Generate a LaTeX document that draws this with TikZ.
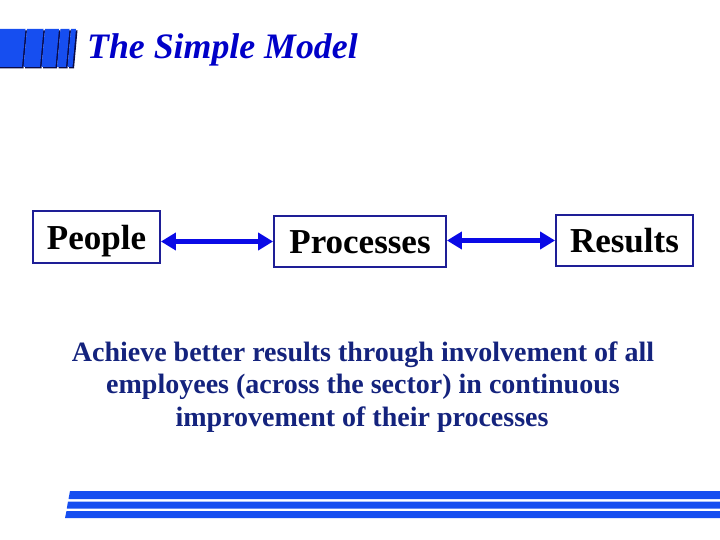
\documentclass[tikz,border=0pt]{standalone}
\usepackage{fontspec}
\setmainfont{Liberation Serif}
\usetikzlibrary{arrows.meta}
\definecolor{logoblue}{RGB}{22,78,240}
\definecolor{logoshadow}{RGB}{10,10,70}
\definecolor{titleblue}{RGB}{0,0,200}
\definecolor{boxblue}{RGB}{30,30,150}
\definecolor{arrowblue}{RGB}{10,10,230}
\definecolor{navytext}{RGB}{20,35,125}
\tikzset{
  stagebox/.style={draw=boxblue, line width=1.8pt, fill=white, inner sep=0pt,
    text height=24pt, text depth=0pt, font=\fontsize{35}{40}\selectfont\bfseries},
  linkarrow/.style={arrowblue, line width=5pt,
    {Triangle[length=15pt,width=17pt]}-{Triangle[length=15pt,width=17pt]}},
  bodytext/.style={navytext, anchor=base, inner sep=0pt,
    font=\fontsize{28}{33}\selectfont\bfseries},
  logobar/.style={fill=logoblue},
  logoshade/.style={fill=logoshadow},
  stripe/.style={fill=logoblue}
}
\begin{document}
\begin{tikzpicture}[x=1pt,y=-1pt]
\useasboundingbox (0,0) rectangle (720,540);
% logo
\foreach \tl/\tr/\bl/\br in {0/25.5/-3/22, 27/43.5/23.5/40, 45/59/41.5/55.5, 60.5/69.5/57/66, 71/76/67.5/72.5}{
  \fill[logoshade] (\tl+1.5,30.5) -- (\tr+1.5,30.5) -- (\br+1.5,68.5) -- (\bl+1.5,68.5) -- cycle;
  \fill[logobar] (\tl,29) -- (\tr,29) -- (\br,67) -- (\bl,67) -- cycle;
}
% title
\node[titleblue, anchor=base west, inner sep=0pt, font=\fontsize{35.8}{40}\selectfont\bfseries\itshape] (title) at (87,59) {The Simple Model};
% boxes
\node[stagebox, minimum width=127pt, minimum height=52pt] (people) at (96.5,237) {People};
\node[stagebox, minimum width=172pt, minimum height=51pt] (processes) at (360,241.5) {Processes};
\node[stagebox, minimum width=137pt, minimum height=51pt] (results) at (624.5,240.5) {Results};
% arrows
\draw[linkarrow] (people.east |- processes.west) -- (processes.west);
\draw[linkarrow] (processes.east |- results.west) -- (results.west);
% body text
\node[bodytext] (l1) at (363,361.5) {Achieve better results through involvement of all};
\node[bodytext] (l2) at (363,393.5) {employees (across the sector) in continuous};
\node[bodytext] (l3) at (362,426.5) {improvement of their processes};
% bottom stripes
\fill[stripe] (70,491) -- (720,491) -- (720,499) -- (68.5,499) -- cycle;
\fill[stripe] (68,501.5) -- (720,501.5) -- (720,508.5) -- (66.8,508.5) -- cycle;
\fill[stripe] (66.5,511) -- (720,511) -- (720,518) -- (65,518) -- cycle;
\end{tikzpicture}
\end{document}
